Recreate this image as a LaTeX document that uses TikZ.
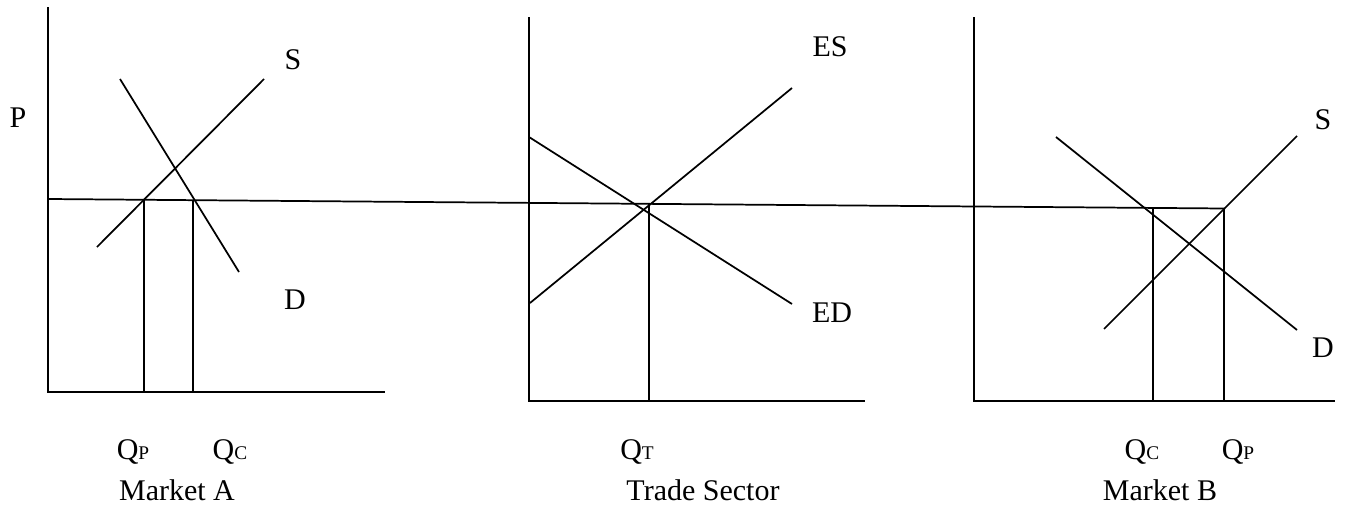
\documentclass[tikz,border=0pt]{standalone}
\usepackage{fontspec}
\setmainfont{Liberation Serif}
\newcommand{\qsub}[1]{Q{\fontsize{14.5}{15}\selectfont #1}}

\begin{document}
\begin{tikzpicture}[x=0.75pt,y=-0.75pt,
    axis/.style={line width=1.6pt},
    curve/.style={line width=1.3pt},
    lbl/.style={font=\fontsize{22.5}{27}\selectfont, inner sep=0pt}]
    \useasboundingbox (0,0) rectangle (1348,518);
    % Market A
    \coordinate (aTop) at (48,7);
    \coordinate (aO) at (48,392);
    \coordinate (aEnd) at (385,392);
    \coordinate (aS1) at (97,247);
    \coordinate (aS2) at (264,79);
    \coordinate (aD1) at (120,79);
    \coordinate (aD2) at (239,272);
    \coordinate (aQp) at (144,199.8);
    \coordinate (aQc) at (193,200.2);
    \draw[axis] (aTop) -- (aO) -- (aEnd);
    \draw[curve] (aS1) -- (aS2);
    \draw[curve] (aD1) -- (aD2);
    \draw[curve] (aQp) -- (aQp |- aO);
    \draw[curve] (aQc) -- (aQc |- aO);
    % Trade sector
    \coordinate (tTop) at (529,17);
    \coordinate (tO) at (529,401);
    \coordinate (tEnd) at (865,401);
    \coordinate (tES1) at (530,303);
    \coordinate (tES2) at (792,88);
    \coordinate (tED1) at (529,137);
    \coordinate (tED2) at (792,304);
    \coordinate (tQt) at (649,203.9);
    \draw[axis] (tTop) -- (tO) -- (tEnd);
    \draw[curve] (tES1) -- (tES2);
    \draw[curve] (tED1) -- (tED2);
    \draw[curve] (tQt) -- (tQt |- tO);
    % Market B
    \coordinate (bTop) at (974,17);
    \coordinate (bO) at (974,401);
    \coordinate (bEnd) at (1335,401);
    \coordinate (bS1) at (1104,329);
    \coordinate (bS2) at (1297,136);
    \coordinate (bD1) at (1056,137);
    \coordinate (bD2) at (1297,330);
    \coordinate (bQc) at (1153,207.9);
    \coordinate (bQp) at (1224,208.5);
    \draw[axis] (bTop) -- (bO) -- (bEnd);
    \draw[curve] (bS1) -- (bS2);
    \draw[curve] (bD1) -- (bD2);
    \draw[curve] (bQc) -- (bQc |- bO);
    \draw[curve] (bQp) -- (bQp |- bO);
    % world price
    \coordinate (wL) at (48,199);
    \coordinate (wR) at (1225,208.5);
    \draw[curve] (wL) -- (wR);
    % labels
    \node[lbl] (pLbl) at (18,118) {P};
    \node[lbl] (aSLbl) at (293,60) {S};
    \node[lbl] (aDLbl) at (295,300) {D};
    \node[lbl] (aQpLbl) at (133,452) {\qsub{P}};
    \node[lbl] (aQcLbl) at (230,452) {\qsub{C}};
    \node[lbl] (aName) at (177,490) {Market A};
    \node[lbl] (tESLbl) at (830,47) {ES};
    \node[lbl] (tEDLbl) at (832,313) {ED};
    \node[lbl] (tQtLbl) at (637,452) {\qsub{T}};
    \node[lbl] (tName) at (703,490) {Trade Sector};
    \node[lbl] (bSLbl) at (1323,120) {S};
    \node[lbl] (bDLbl) at (1323,348) {D};
    \node[lbl] (bQcLbl) at (1142,452) {\qsub{C}};
    \node[lbl] (bQpLbl) at (1238,452) {\qsub{P}};
    \node[lbl] (bName) at (1160,490) {Market B};
\end{tikzpicture}
\end{document}
